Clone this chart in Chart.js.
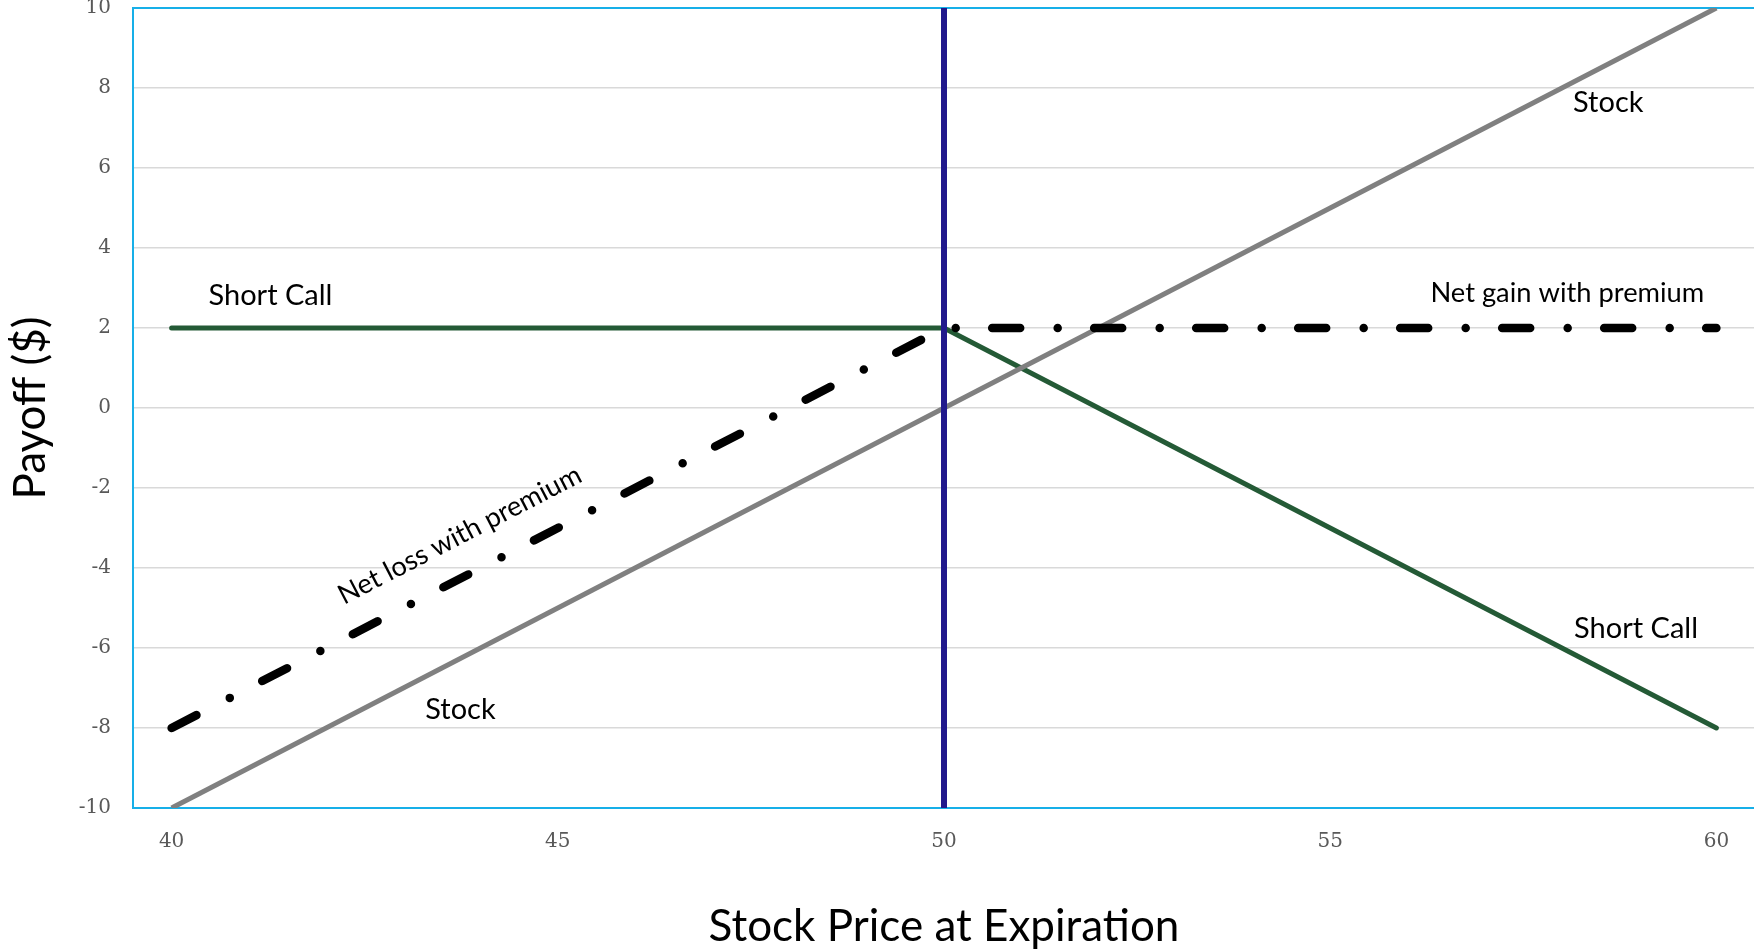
<!DOCTYPE html>
<html>
<head>
<meta charset="utf-8">
<script src="https://cdn.jsdelivr.net/npm/chart.js@4.4.1/dist/chart.umd.min.js"></script>
<style>
  html, body { margin: 0; padding: 0; background: #ffffff; overflow: hidden; }
  #wrap { width: 1760px; height: 951px; position: relative; }
</style>
</head>
<body>
<div id="wrap"><canvas id="c"></canvas></div>
<script>
// ---- data ----
const stockX = [40, 60];
const stockY = [-10, 10];
const shortCallX = [40, 50, 60];
const shortCallY = [2, 2, -8];
const netX = [40, 50, 60];
const netY = [-8, 2, 2];
const strikeX = [50, 50];
const strikeY = [-10, 10];
const xTicks = [40, 45, 50, 55, 60];
const yTicks = [-10, -8, -6, -4, -2, 0, 2, 4, 6, 8, 10];
const xTitle = 'Stock Price at Expiration';
const yTitle = 'Payoff ($)';
const labelTexts = ['Short Call', 'Stock', 'Net gain with premium', 'Short Call', 'Stock', 'Net loss with premium'];
const labelX = [41.28, 58.60, 58.07, 58.96, 43.74, 43.73];
const labelY = [2.575, 7.4, 2.65, -5.75, -7.775, -3.18];

const pts = (xs, ys) => xs.map((x, i) => ({ x: x, y: ys[i] }));

const BLUE = '#17AFE8';

const labelPlugin = {
  id: 'lineLabels',
  afterDatasetsDraw(chart) {
    const { ctx, scales } = chart;
    const xs = scales.x, ys = scales.y;
    ctx.save();
    ctx.fillStyle = '#000000';
    ctx.textAlign = 'center';
    labelTexts.forEach((t, i) => {
      const px = xs.getPixelForValue(labelX[i]);
      const py = ys.getPixelForValue(labelY[i]);
      ctx.font = (t.length > 12 ? 27.3 : 29) + 'px Lato';
      if (t.indexOf('loss') >= 0) {
        const ang = Math.atan2(ys.getPixelForValue(netY[1]) - ys.getPixelForValue(netY[0]),
                               xs.getPixelForValue(netX[1]) - xs.getPixelForValue(netX[0]));
        ctx.save();
        ctx.translate(px, py);
        ctx.rotate(ang);
        ctx.textBaseline = 'middle';
        ctx.fillText(t, 0, 0);
        ctx.restore();
      } else {
        ctx.textBaseline = 'alphabetic';
        ctx.fillText(t, px, py);
      }
    });
    ctx.restore();
  }
};

new Chart(document.getElementById('c'), {
  type: 'line',
  data: {
    datasets: [
      {
        label: 'Strike',
        data: pts(strikeX, strikeY),
        borderColor: '#21198C',
        borderWidth: 6,
        pointRadius: 0,
        order: 0
      },
      {
        label: 'Net',
        data: pts(netX, netY),
        borderColor: '#000000',
        borderWidth: 8.5,
        borderDash: [28, 37.5, 0, 36.5],
        borderCapStyle: 'round',
        borderJoinStyle: 'round',
        pointRadius: 0,
        order: 1
      },
      {
        label: 'Stock',
        data: pts(stockX, stockY),
        borderColor: '#808080',
        borderWidth: 5,
        pointRadius: 0,
        order: 2
      },
      {
        label: 'Short Call',
        data: pts(shortCallX, shortCallY),
        borderColor: '#245A36',
        borderWidth: 5,
        borderCapStyle: 'round',
        pointRadius: 0,
        order: 3
      }
    ]
  },
  options: {
    responsive: true,
    maintainAspectRatio: false,
    animation: false,
    devicePixelRatio: 1,
    layout: { padding: { top: 8, right: 5, left: 0, bottom: 0 } },
    plugins: { legend: { display: false }, tooltip: { enabled: false } },
    elements: { line: { tension: 0 } },
    scales: {
      x: {
        type: 'linear',
        min: 39.5,
        max: 60.5,
        afterBuildTicks: s => { s.ticks = xTicks.map(v => ({ value: v })); },
        afterFit: s => { s.height = 143; s.paddingLeft = 0; s.paddingRight = 0; },
        grid: { display: false },
        border: { display: true, color: BLUE, width: 2 },
        ticks: {
          padding: 14,
          color: '#595959',
          font: { family: 'DejaVu Serif', size: 20 },
          maxRotation: 0,
          callback: v => String(v)
        },
        title: {
          display: true,
          text: xTitle,
          color: '#000000',
          font: { family: 'Lato', size: 44, lineHeight: 1 },
          padding: { top: 0, bottom: 2 }
        }
      },
      y: {
        type: 'linear',
        min: -10,
        max: 10,
        afterBuildTicks: s => { s.ticks = yTicks.map(v => ({ value: v })); },
        afterFit: s => { s.width = 133; s.paddingTop = 0; s.paddingBottom = 0; },
        grid: {
          drawTicks: false,
          color: c => (c.tick && (c.tick.value === 10 || c.tick.value === -10)) ? BLUE : '#D9D9D9',
          lineWidth: c => (c.tick && (c.tick.value === 10 || c.tick.value === -10)) ? 2 : 1.5
        },
        border: { display: true, color: BLUE, width: 2 },
        ticks: {
          padding: 22,
          color: '#595959',
          font: { family: 'DejaVu Serif', size: 20 },
          callback: v => String(v)
        },
        title: {
          display: true,
          text: yTitle,
          color: '#000000',
          font: { family: 'Lato', size: 44, lineHeight: 1 },
          padding: { top: 9, bottom: 0 }
        }
      }
    }
  },
  plugins: [labelPlugin]
});
</script>
</body>
</html>
